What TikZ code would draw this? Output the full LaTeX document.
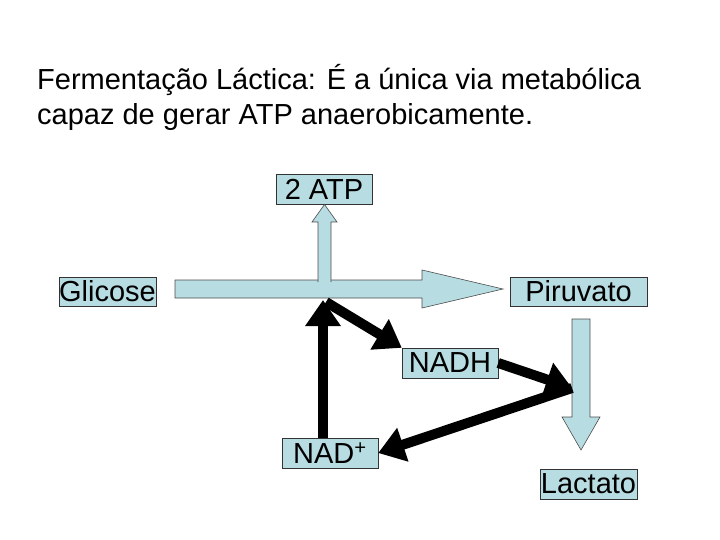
\documentclass[tikz,border=0pt]{standalone}
\usepackage{fontspec}
\setmainfont{Liberation Sans}
\usetikzlibrary{arrows.meta}
\definecolor{lb}{HTML}{B7DDE3}
\begin{document}
\begin{tikzpicture}[x=1pt,y=-1pt,
  box/.style={draw=black!80,fill=lb,inner sep=0pt,font=\fontsize{29}{34}\selectfont},
  fat/.style={draw=black!70,fill=lb,line width=0.6pt},
  blk/.style={line width=10pt,-{Triangle[length=26pt,width=34pt]}}]
\useasboundingbox (0,0) rectangle (720,540);
\node[anchor=west,align=left,font=\fontsize{29}{35}\selectfont,inner sep=0pt] (title) at (37,97) {Fermentação Láctica: É a única via metabólica\\capaz de gerar ATP anaerobicamente.};
\node[box,minimum width=96pt,minimum height=30pt] (atp) at (324,189) {2 ATP};
\node[box,minimum width=95pt,minimum height=29pt] (gli) at (107.5,291.5) {Glicose};
\node[box,minimum width=137pt,minimum height=29pt] (pir) at (578.5,291.5) {Piruvato};
\node[box,minimum width=96pt,minimum height=30pt] (nadh) at (450,363) {NADH};
\node[box,minimum width=96pt,minimum height=30pt] (nad) at (330,453) {NAD\textsuperscript{+}};
\node[box,minimum width=97pt,minimum height=30pt] (lac) at (588.5,484) {Lactato};
% blue arrows
\draw[fat] (175,280) -- (422,280) -- (422,270) -- (503,289) -- (422,308) -- (422,298) -- (175,298) -- cycle;
\draw[fat] (318,282) -- (318,222) -- (312,222) -- (324.5,204.5) -- (337,222) -- (331,222) -- (331,282);
\draw[fat] (572,319) -- (590,319) -- (590,417) -- (600,417) -- (581,450) -- (562,417) -- (572,417) -- cycle;
% black arrows
\coordinate (j) at (323,300);
\coordinate (k) at (572,388);
\draw[blk] (nad.north -| j) -- (j);
\draw[blk] (326,302) -- (nadh.north west);
\draw[blk] (nadh.east) -- (k);
\draw[blk] (k) -- (nad.east);
\end{tikzpicture}
\end{document}
